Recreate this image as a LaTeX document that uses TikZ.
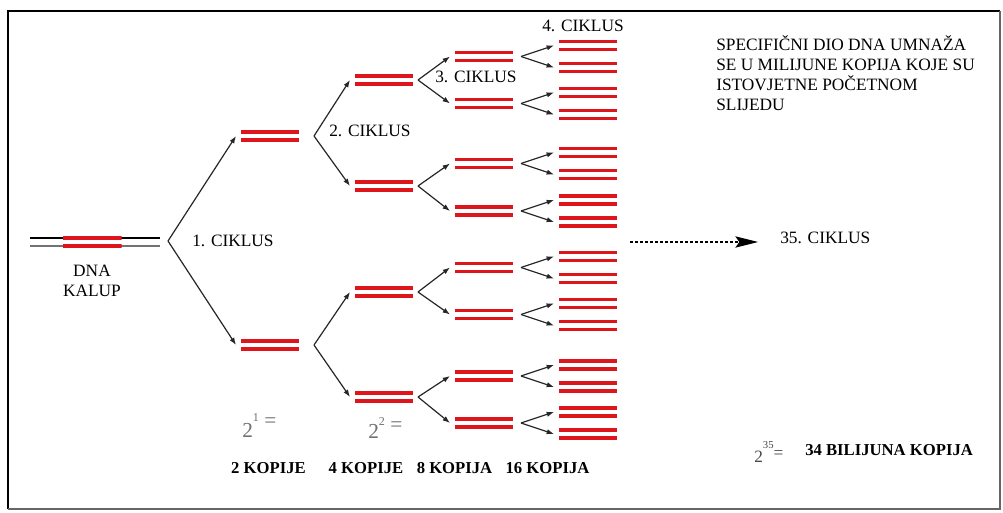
\documentclass[tikz,border=0pt]{standalone}
\usepackage{fontspec}
\setmainfont{Liberation Serif}
\usetikzlibrary{positioning,arrows.meta,calc}
\definecolor{dnared}{RGB}{222,22,28}
\definecolor{powgray}{RGB}{112,112,112}

\begin{document}
\begin{tikzpicture}[x=0.75pt,y=-0.75pt,
		dsdna/.style={minimum width=43.5pt,minimum height=10pt,inner sep=0pt,outer xsep=3.75pt,
			path picture={\draw[dnared,line width=2.5pt]
				([yshift=3pt]path picture bounding box.west) -- ([yshift=3pt]path picture bounding box.east)
				([yshift=-3pt]path picture bounding box.west) -- ([yshift=-3pt]path picture bounding box.east);}},
		copyarrow/.style={draw=black!85,line width=0.9pt,-{Latex[length=5.5pt,width=4pt]}},
		lbl/.style={inner sep=0pt,font=\fontsize{13}{15}\selectfont},
		kopije/.style={inner sep=0pt,font=\bfseries\fontsize{12.5}{15}\selectfont},
		pow/.style={inner sep=0pt,text=powgray,font=\fontsize{16}{16}\selectfont}]

		\useasboundingbox (0,0) rectangle (1003,513);
		\draw[line width=1.6pt] (8,509) -- (8,11) -- (1000,11);
		\draw[black!60,line width=1pt] (1000,11) -- (1000,509) -- (8,509);

		\draw[line width=1pt] (30,238) -- (160,238);
		\draw[black!55,line width=1pt] (30,246) -- (160,246);
		\node[dsdna,minimum width=44.25pt]						(kalup)		at (92,242) {};
		\node[lbl,align=center,below=12pt of kalup]				(kalupt)	{DNA\\KALUP};

		\coordinate (v0) at (168,241);
		\node[dsdna]		(a1)	at (270,136) {};
		\node[dsdna]		(a2)	at (270,345) {};
		\draw[copyarrow] (v0) -- (a1.west);
		\draw[copyarrow] (v0) -- (a2.west);
		\node[lbl,right=18pt of v0]								(cik1)		{1. CIKLUS};

		\foreach \p in {a1,a2}
			\coordinate (v\p) at ($(\p.east)+(10,0)$);
		\foreach \i/\y/\p in {1/80/a1,2/186/a1,3/292/a2,4/397/a2}{
			\node[dsdna] (b\i) at (384,\y) {};
			\draw[copyarrow] (v\p) -- (b\i.west);
		}
		\node[lbl,right=11.25pt of va1,yshift=3.75pt]			(cik2)		{2. CIKLUS};

		\foreach \p in {b1,b2,b3,b4}
			\coordinate (v\p) at (\p.east);
		\foreach \i/\y/\p in {1/56.5/b1,2/103.5/b1,3/163.5/b2,4/211/b2,5/267.5/b3,6/314.5/b3,7/376/b4,8/423/b4}{
			\node[dsdna] (c\i) at (484,\y) {};
			\draw[copyarrow] (v\p) -- (c\i.west);
		}
		\node[lbl,right=12.75pt of vb1,yshift=2.6pt]			(cik3)		{3. CIKLUS};

		\foreach \p in {c1,c2,c3,c4,c5,c6,c7,c8}
			\coordinate (v\p) at ($(\p.east)+(3,0)$);
		\foreach \i/\y/\p in {1/45.5/c1,2/67.5/c1,3/92.5/c2,4/114.5/c2,5/152.5/c3,6/174.5/c3,7/200/c4,8/222/c4,
				9/256.5/c5,10/278.5/c5,11/303.5/c6,12/325.5/c6,13/365/c7,14/387/c7,15/412/c8,16/434/c8}{
			\node[dsdna] (d\i) at (588,\y) {};
			\draw[copyarrow] (v\p) -- (d\i.west);
		}
		\node[lbl,above=5pt of d1,xshift=-3.75pt]				(cik4)		{4. CIKLUS};

		\node[lbl,anchor=west]									(cik35)		at (780,238) {35. CIKLUS};
		\coordinate (dstart) at (630,242);
		\draw[line width=0.8pt,dash pattern=on 2.25pt off 1.5pt,shorten >=16.5pt,
			-{Stealth[length=17pt,width=8.5pt,inset=3pt]}] (dstart) -- (dstart -| cik35.west);

		\node[lbl,align=left,anchor=north west]					(spec)		at (716,35)
			{SPECIFIČNI DIO DNA UMNAŽA\\SE U MILIJUNE KOPIJA KOJE SU\\ISTOVJETNE POČETNOM\\SLIJEDU};

		\node[pow,anchor=base west]		(pow1)	at (242,437) {2\raisebox{0.75em}{\fontsize{9}{9}\selectfont 1}\hspace{4pt}\raisebox{0.45em}{=}};
		\node[pow,anchor=base west]		(pow2)	at (368,438) {2\raisebox{0.6em}{\fontsize{9}{9}\selectfont 2}\hspace{4pt}\raisebox{0.3em}{=}};

		\node[kopije]	(kop2)	at (268.5,468) {2 KOPIJE};
		\node[kopije]	(kop4)	at (366,468)   {4 KOPIJE};
		\node[kopije]	(kop8)	at (454.5,468) {8 KOPIJA};
		\node[kopije]	(kop16)	at (547.5,468) {16 KOPIJA};

		\node[kopije,anchor=west]		(bil)	at (805,450) {34 BILIJUNA KOPIJA};
		\node[pow,text=black!72,font=\fontsize{13}{12}\selectfont,anchor=base west]
										(pow35)	at (754,462) {2\raisebox{0.8em}{\fontsize{8}{8}\selectfont 35}\raisebox{0.2em}{=}};
	\end{tikzpicture}
\end{document}
